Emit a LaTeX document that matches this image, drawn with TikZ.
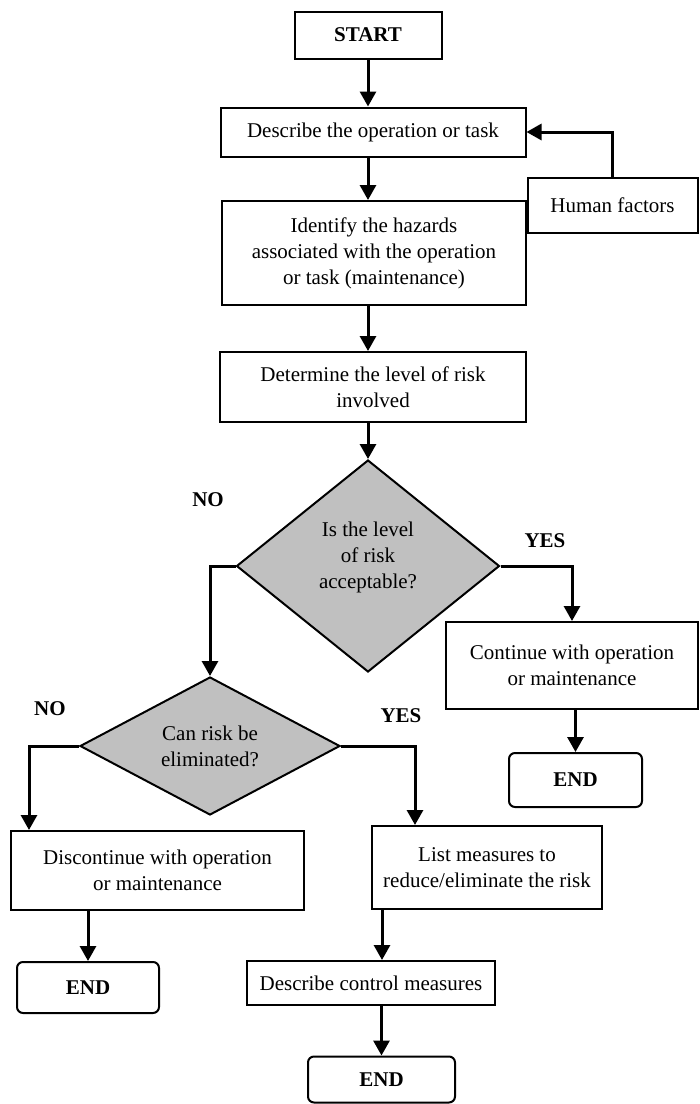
\documentclass[tikz,border=0pt]{standalone}
\usepackage{fontspec}
\setmainfont{Liberation Serif}
\usetikzlibrary{shapes.geometric,arrows.meta}
\definecolor{dgray}{RGB}{192,192,192}
\begin{document}
\begin{tikzpicture}[x=1pt,y=-1pt,
  box/.style={draw,line width=2pt,align=center,inner sep=0pt,font=\fontsize{21}{26}\selectfont},
  endbox/.style={box,rounded corners=6pt,font=\fontsize{21}{26}\selectfont\bfseries},
  dia/.style={draw,line width=2pt,shape=diamond,fill=dgray,inner sep=0pt,align=center,font=\fontsize{21}{26}\selectfont},
  txt/.style={align=center,inner sep=0pt,font=\fontsize{21}{26}\selectfont},
  lbl/.style={inner sep=0pt,font=\fontsize{21}{26}\selectfont\bfseries},
  arr/.style={line width=3pt,-{Triangle[length=15pt,width=16pt]}}]
\useasboundingbox (0,0) rectangle (700,1104);
\node[box,font=\fontsize{21}{26}\selectfont\bfseries,minimum width=147pt,minimum height=47pt] (start) at (368,35) {START};
\node[box,minimum width=305pt,minimum height=49pt] (desc) at (373,132) {Describe the operation or task};
\node[box,minimum width=170pt,minimum height=55pt] (hf) at (612.5,205.5) {Human factors};
\node[box,minimum width=304pt,minimum height=104pt] (ident) at (374,253) {Identify the hazards\\associated with the operation\\or task (maintenance)};
\node[box,minimum width=306pt,minimum height=70pt] (det) at (373,387) {Determine the level of risk\\involved};
\node[dia,minimum width=263pt,minimum height=212pt] (d1) at (368,566) {};
\node[txt] (d1t) at (368,557) {Is the level\\of risk\\acceptable?};
\node[box,minimum width=252pt,minimum height=87pt] (cont) at (572,665.5) {Continue with operation\\or maintenance};
\node[endbox,minimum width=133pt,minimum height=54pt] (end2) at (575.5,780) {END};
\node[dia,aspect=1.9,minimum width=260pt,minimum height=138pt] (d2) at (210,746) {Can risk be\\eliminated?};
\node[box,minimum width=293pt,minimum height=79pt] (disc) at (157.5,870.5) {Discontinue with operation\\or maintenance};
\node[endbox,minimum width=142pt,minimum height=51pt] (end1) at (88,987.5) {END};
\node[box,minimum width=230pt,minimum height=83pt] (list) at (487,867.5) {List measures to\\reduce/eliminate the risk};
\node[box,minimum width=248pt,minimum height=44pt] (ctrl) at (371,983) {Describe control measures};
\node[endbox,minimum width=147pt,minimum height=46pt] (end3) at (381.5,1079.5) {END};
\node[lbl] (no1) at (208,500) {NO};
\node[lbl] (yes1) at (545,541) {YES};
\node[lbl] (no2) at (50,709) {NO};
\node[lbl] (yes2) at (401,716) {YES};
\draw[arr] (start.south) -- (start.south |- desc.north);
\draw[arr] (hf.north) |- (desc.east);
\draw[arr] (start.south |- desc.south) -- (start.south |- ident.north);
\draw[arr] (start.south |- ident.south) -- (start.south |- det.north);
\draw[arr] (start.south |- det.south) -- (d1.north);
\draw[arr] (d1.west) -| (d2.north);
\draw[arr] (d1.east) -| (cont.north);
\draw[arr] (cont.south -| end2.north) -- (end2.north);
\draw[arr] (d2.west) -| ([xshift=19pt]disc.north west);
\draw[arr] (disc.south -| end1.north) -- (end1.north);
\draw[arr] (d2.east) -| ([xshift=44pt]list.north west);
\draw[arr] ([xshift=11pt]list.south west) -- ([xshift=11pt]list.south west |- ctrl.north);
\draw[arr] (end3.north |- ctrl.south) -- (end3.north);
\end{tikzpicture}
\end{document}
